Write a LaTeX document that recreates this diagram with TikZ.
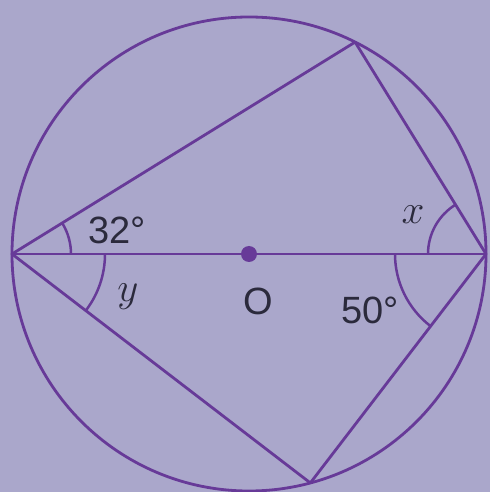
\documentclass[tikz,border=0pt]{standalone}
\usepackage{fontspec}
\setmainfont{Liberation Sans}
\usepackage{tikz}
\definecolor{paper}{HTML}{AAA7CB}
\definecolor{ink}{HTML}{673A98}
\definecolor{lettering}{HTML}{2B2A3C}

\begin{document}
\begin{tikzpicture}[
  x=1pt, y=1pt,
  chord/.style={line width=2.8pt, ink, line cap=round, line join=round},
  anglemark/.style={line width=2.5pt, ink},
  num/.style={font=\fontsize{38}{40}\selectfont, text=lettering, inner sep=0pt},
  var/.style={font=\Huge, scale=1.65, text=lettering, inner sep=0pt},
]

\fill[paper] (-249,-238) rectangle (241,254);
\useasboundingbox (-249,-238) rectangle (241,254);

\coordinate (O) at (0,0);
\coordinate (L) at (180:237);
\coordinate (R) at (0:237);
\coordinate (T) at (63.4:237);
\coordinate (B) at (-75:237);

\draw[chord] (O) circle[radius=237];
\draw[chord] (L) -- (R);
\draw[chord] (L) -- (T) -- (R);
\draw[chord] (L) -- (B) -- (R);

\draw[anglemark] ([shift={(0:59)}]L) arc[start angle=0, end angle=31.6, radius=59];
\draw[anglemark] ([shift={(0:93)}]L) arc[start angle=0, end angle=-37.4, radius=93];
\draw[anglemark] ([shift={(180:58)}]R) arc[start angle=180, end angle=121.8, radius=58];
\draw[anglemark] ([shift={(180:91)}]R) arc[start angle=180, end angle=232.3, radius=91];

\fill[ink] (O) circle[radius=8];

\node[num] (a32) at (-132,24) {32°};
\node[var] (ay) at (-121,-43) {$y$};
\node[num] (lo) at (9,-47) {O};
\node[num] (a50) at (121,-56) {50°};
\node[var] (ax) at (164,39) {$x$};

\end{tikzpicture}
\end{document}
